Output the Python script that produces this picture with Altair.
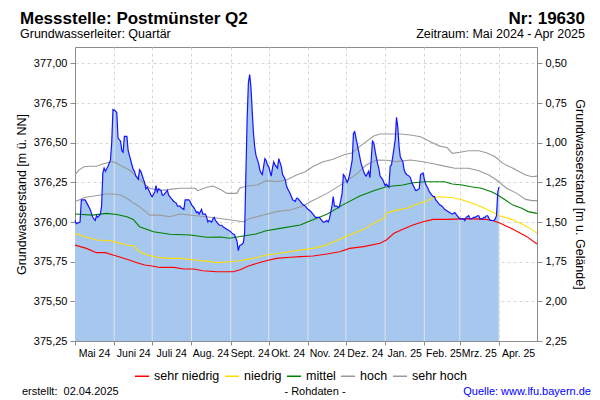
import altair as alt
import numpy as np
import pandas as pd

# ---------------- Texte ----------------
TITEL = "Messstelle: Postmünster Q2"
NUMMER = "Nr: 19630"
LEITER = "Grundwasserleiter: Quartär"
ZEITRAUM = "Zeitraum: Mai 2024 - Apr 2025"
ERSTELLT = "erstellt:\u00a0 02.04.2025"
ROHDATEN = "- Rohdaten -"
QUELLE = "Quelle: www.lfu.bayern.de"
Y_TITEL_LINKS = "Grundwasserstand [m ü. NN]"
Y_TITEL_RECHTS = "Grundwasserstand [m u. Gelände]"

# ---------------- Achsen ----------------
START = "2024-05-01"
ENDE = "2025-05-01"
GELAENDE = 377.50
Y_MIN = 375.25
Y_MAX = 377.104
Y_TICKS = [375.25, 375.50, 375.75, 376.00, 376.25, 376.50, 376.75, 377.00]
MONATS_ANFAENGE = ["2024-05-01", "2024-06-01", "2024-07-01", "2024-08-01", "2024-09-01",
                   "2024-10-01", "2024-11-01", "2024-12-01", "2025-01-01", "2025-02-01",
                   "2025-03-01", "2025-04-01"]
MONATS_LABELS = ["Mai 24", "Juni 24", "Juli 24", "Aug. 24", "Sept. 24", "Okt. 24",
                 "Nov. 24", "Dez. 24", "Jan. 25", "Feb. 25", "Mrz. 25", "Apr. 25"]

# ---------------- Messwerte (Tage seit START, m ü. NN) ----------------
MESS_TAG = [0, 1, 4, 5, 8, 10, 12, 14, 16, 17, 18, 20, 21, 22, 23, 24, 26, 27, 28, 29,
            30, 32, 33, 34, 36, 37, 38, 39, 41, 42, 43, 44, 46, 47, 48, 50, 51, 52, 54, 55,
            56, 57, 59, 60, 61, 63, 64, 65, 66, 68, 69, 70, 72, 73, 74, 76, 77, 78, 80, 81,
            83, 84, 86, 87, 88, 90, 91, 92, 94, 96, 97, 98, 100, 101, 103, 104, 105, 106, 108, 109,
            110, 111, 113, 114, 116, 117, 119, 121, 123, 124, 126, 128, 129, 130, 132, 133, 134, 135, 136, 137,
            138, 139, 140, 141, 142, 143, 145, 146, 147, 148, 150, 151, 152, 153, 155, 156, 157, 158, 160, 161,
            163, 164, 166, 167, 168, 170, 171, 172, 174, 175, 176, 178, 179, 180, 182, 183, 184, 186, 187, 188,
            190, 191, 193, 195, 196, 197, 199, 200, 201, 203, 204, 205, 207, 208, 209, 211, 212, 213, 215, 216,
            217, 219, 220, 221, 222, 224, 225, 226, 228, 229, 230, 232, 233, 234, 235, 236, 238, 239, 240, 241,
            243, 244, 245, 246, 248, 249, 250, 251, 253, 254, 255, 256, 257, 259, 260, 261, 262, 264, 265, 266,
            268, 269, 270, 272, 273, 275, 276, 277, 279, 280, 281, 283, 284, 285, 286, 288, 290, 292, 294, 296,
            298, 300, 301, 303, 304, 306, 307, 308, 309, 311, 312, 313, 315, 316, 318, 319, 320, 322, 323, 324,
            325, 326, 328, 330, 331, 332, 333, 334, 335]
MESS_WERT = [376.01, 375.99, 376.00, 376.14, 376.14, 376.11, 376.08, 376.03, 376.01, 376.04,
             376.03, 376.05, 376.10, 376.31, 376.34, 376.32, 376.35, 376.37, 376.39, 376.50,
             376.71, 376.70, 376.69, 376.53, 376.51, 376.45, 376.44, 376.54, 376.54, 376.45,
             376.42, 376.39, 376.33, 376.32, 376.29, 376.27, 376.33, 376.32, 376.27, 376.25,
             376.21, 376.22, 376.19, 376.17, 376.16, 376.19, 376.23, 376.19, 376.21, 376.20,
             376.17, 376.17, 376.19, 376.20, 376.17, 376.15, 376.14, 376.13, 376.12, 376.10,
             376.10, 376.09, 376.08, 376.14, 376.14, 376.14, 376.13, 376.11, 376.09, 376.06,
             376.065, 376.05, 376.08, 376.05, 376.05, 376.03, 376.00, 376.01, 376.00, 376.02,
             376.03, 376.01, 375.99, 375.98, 375.98, 375.97, 375.96, 375.95, 375.94, 375.93,
             375.92, 375.88, 375.82, 375.85, 375.86, 375.87, 375.93, 376.30, 376.65, 376.88,
             376.93, 376.85, 376.70, 376.56, 376.47, 376.42, 376.37, 376.33, 376.31, 376.30,
             376.40, 376.39, 376.36, 376.35, 376.29, 376.34, 376.38, 376.36, 376.34, 376.40,
             376.35, 376.30, 376.27, 376.23, 376.21, 376.18, 376.16, 376.14, 376.13, 376.15,
             376.15, 376.13, 376.12, 376.11, 376.10, 376.09, 376.08, 376.07, 376.06, 376.05,
             376.03, 376.03, 376.03, 376.01, 376.00, 376.00, 376.01, 376.00, 376.02, 376.10,
             376.16, 376.10, 376.10, 376.09, 376.10, 376.18, 376.30, 376.29, 376.25, 376.27,
             376.30, 376.39, 376.56, 376.57, 376.53, 376.45, 376.41, 376.37, 376.32, 376.30,
             376.29, 376.32, 376.28, 376.39, 376.51, 376.50, 376.41, 376.37, 376.34, 376.29,
             376.27, 376.25, 376.23, 376.24, 376.22, 376.35, 376.36, 376.41, 376.52, 376.66,
             376.60, 376.48, 376.41, 376.38, 376.33, 376.31, 376.30, 376.29, 376.28, 376.25,
             376.22, 376.20, 376.20, 376.21, 376.30, 376.31, 376.27, 376.24, 376.21, 376.19,
             376.18, 376.16, 376.16, 376.14, 376.13, 376.11, 376.10, 376.08, 376.07, 376.06,
             376.05, 376.06, 376.05, 376.03, 376.02, 376.02, 376.02, 376.01, 376.03, 376.04,
             376.02, 376.02, 376.03, 376.03, 376.04, 376.04, 376.02, 376.02, 376.03, 376.03,
             376.04, 376.04, 376.01, 376.01, 376.01, 376.02, 376.04, 376.19, 376.22]

# ---------------- Kennwerte (Tage seit START, m ü. NN) ----------------
SN_TAG = [0, 9, 17, 24, 30, 36, 41, 49, 55, 61, 67, 78, 86, 94, 101, 112, 125, 130, 137, 144,
          151, 159, 170, 178, 188, 199, 209, 217, 228, 241, 246, 252, 259, 267, 275, 283, 294, 310, 325, 330,
          336, 346, 357, 365]
SN_WERT = [375.855, 375.834, 375.807, 375.807, 375.792, 375.778, 375.765, 375.744, 375.729, 375.723,
           375.714, 375.714, 375.704, 375.704, 375.693, 375.687, 375.687, 375.698, 375.723, 375.740,
           375.756, 375.771, 375.778, 375.782, 375.786, 375.799, 375.813, 375.834, 375.845, 375.866,
           375.887, 375.929, 375.954, 375.981, 376.002, 376.017, 376.017, 376.022, 376.017, 376.010,
           375.992, 375.955, 375.908, 375.862]

N_TAG = [0, 9, 17, 28, 33, 41, 46, 51, 57, 65, 72, 83, 94, 104, 112, 123, 130, 141, 151, 162,
         178, 188, 199, 209, 217, 228, 238, 244, 246, 252, 262, 273, 277, 282, 287, 298, 306, 313, 321, 329,
         336, 345, 353, 361, 365]
N_WERT = [375.929, 375.904, 375.887, 375.882, 375.872, 375.855, 375.850, 375.813, 375.792, 375.778,
          375.771, 375.771, 375.761, 375.754, 375.744, 375.750, 375.756, 375.771, 375.792, 375.803,
          375.824, 375.834, 375.855, 375.891, 375.918, 375.954, 376.002, 376.024, 376.055, 376.072,
          376.087, 376.122, 376.128, 376.150, 376.160, 376.155, 376.139, 376.122, 376.097, 376.066,
          376.038, 376.017, 375.988, 375.954, 375.929]

M_TAG = [0, 14, 20, 25, 33, 41, 46, 51, 62, 75, 91, 104, 115, 122, 133, 143, 151, 162, 178, 186,
         199, 212, 225, 236, 246, 259, 267, 277, 292, 298, 306, 313, 321, 329, 334, 340, 346, 353, 358, 365]
M_WERT = [376.051, 376.044, 376.050, 376.055, 376.048, 376.034, 376.017, 375.971, 375.939, 375.923,
          375.918, 375.904, 375.906, 375.898, 375.912, 375.925, 375.945, 375.960, 375.981, 376.009,
          376.050, 376.110, 376.165, 376.198, 376.223, 376.234, 376.248, 376.254, 376.254, 376.240,
          376.234, 376.223, 376.213, 376.191, 376.171, 376.139, 376.107, 376.087, 376.066, 376.055]

H_TAG = [0, 8, 15, 20, 24, 30, 36, 41, 46, 51, 59, 67, 75, 83, 90, 107, 122, 133, 138, 149,
         159, 170, 180, 186, 199, 212, 223, 230, 238, 246, 254, 265, 275, 284, 292, 300, 311, 319, 327, 333,
         341, 349, 356, 361, 365]
H_WERT = [376.128, 376.156, 376.164, 376.171, 376.177, 376.177, 376.171, 376.150, 376.122, 376.097,
          376.044, 376.044, 376.034, 376.051, 376.045, 376.030, 376.015, 376.002, 376.023, 376.044,
          376.066, 376.076, 376.101, 376.128, 376.181, 376.244, 376.307, 376.360, 376.391, 376.390,
          376.381, 376.391, 376.380, 376.366, 376.353, 376.339, 376.339, 376.324, 376.297, 376.265,
          376.213, 376.181, 376.143, 376.135, 376.135]

SH_TAG = [0, 3, 7, 12, 17, 22, 29, 32, 38, 43, 49, 54, 59, 67, 75, 83, 95, 97, 104, 109,
          115, 120, 128, 130, 136, 144, 151, 159, 167, 175, 182, 188, 196, 204, 212, 219, 224, 230, 236, 241,
          257, 265, 273, 280, 288, 294, 298, 304, 311, 319, 325, 332, 338, 346, 356, 361, 365]
SH_WERT = [376.297, 376.328, 376.349, 376.352, 376.352, 376.366, 376.381, 376.375, 376.349, 376.328,
           376.286, 376.248, 376.213, 376.198, 376.206, 376.213, 376.213, 376.198, 376.220, 376.227,
           376.205, 376.181, 376.181, 376.213, 376.227, 376.234, 376.261, 376.255, 376.265, 376.297,
           376.318, 376.350, 376.381, 376.396, 376.423, 376.437, 376.471, 376.507, 376.543, 376.555,
           376.555, 376.549, 376.538, 376.510, 376.479, 376.470, 376.433, 376.440, 376.450, 376.450,
           376.437, 376.412, 376.370, 376.339, 376.297, 376.286, 376.290]

KLASSEN = ["sehr niedrig", "niedrig", "mittel", "hoch", "sehr hoch"]
KLASSEN_FARBEN = ["#ff0000", "#ffdf00", "#008000", "#9a9a9a", "#9a9a9a"]

FONT = "Liberation Sans"
FUELLUNG = "#a6c8ee"
BLAU = "#1414ff"
RAHMEN = "#8c8c8c"

# ---------------- Tabellen ----------------
start = pd.Timestamp(START)
mess = pd.DataFrame({"datum": start + pd.to_timedelta(MESS_TAG, unit="D"), "wert": MESS_WERT})

teile = []
for name, tage, werte in zip(KLASSEN, [SN_TAG, N_TAG, M_TAG, H_TAG, SH_TAG],
                             [SN_WERT, N_WERT, M_WERT, H_WERT, SH_WERT]):
    teile.append(pd.DataFrame({"datum": start + pd.to_timedelta(tage, unit="D"),
                               "wert": werte, "klasse": name}))
kenn = pd.concat(teile, ignore_index=True)

# Helle Monatslinien innerhalb der Fläche (bis zur Ganglinie)
anf = pd.to_datetime(MONATS_ANFAENGE[1:])
anf_tage = [(d - start).days for d in anf]
monatslinien = pd.DataFrame({"datum": anf,
                             "wert": np.interp(anf_tage, MESS_TAG, MESS_WERT)})
monatslinien = monatslinien[[t <= MESS_TAG[-1] for t in anf_tage]]

# ---------------- Skalen / Achsen ----------------
def dt(s):
    t = pd.Timestamp(s)
    return alt.DateTime(year=t.year, month=t.month, date=t.day)

x_scale = alt.Scale(domain=[dt(START), dt(ENDE)])
y_scale = alt.Scale(domain=[Y_MIN, Y_MAX], nice=False, zero=False)

lbl_by_month = [""] * 12
for d, l in zip(MONATS_ANFAENGE, MONATS_LABELS):
    lbl_by_month[pd.Timestamp(d).month - 1] = l
label_expr = "[" + ",".join("'" + l + "'" for l in lbl_by_month) + "][month(datum.value)]"

x_axis = alt.Axis(values=[dt(d) for d in MONATS_ANFAENGE], labelExpr=label_expr,
                  labelOffset=19, tickSize=4, labelPadding=3, grid=True, labelFontSize=10.5,
                  gridDash=[3, 3], gridColor="#d6d6d6", labelFlush=False,
                  labelOverlap=False, title=None)
y_axis = alt.Axis(values=Y_TICKS, labelExpr="replace(format(datum.value, '.2f'), '.', ',')",
                  tickSize=5, labelPadding=3, grid=True, gridDash=[3, 3], gridColor="#d6d6d6",
                  title=Y_TITEL_LINKS, titleX=-54, titleY=147, titleAngle=270,
                  titleAlign="center", titleBaseline="middle", titleFontSize=12.5)
y_axis_r = alt.Axis(orient="right", values=Y_TICKS,
                    labelExpr=f"replace(format({GELAENDE} - datum.value, '.2f'), '.', ',')",
                    tickSize=5, labelPadding=3, grid=False,
                    title=Y_TITEL_RECHTS, titleX=42, titleY=147, titleAngle=90,
                    titleAlign="center", titleBaseline="middle", titleFontSize=12.5)

X = alt.X("datum:T", scale=x_scale, axis=x_axis)
Y = alt.Y("wert:Q", scale=y_scale, axis=y_axis)

flaeche = alt.Chart(mess).mark_area(color=FUELLUNG, opacity=1, clip=True).encode(
    x=X, y=Y, y2=alt.datum(Y_MIN))
linien_monat = alt.Chart(monatslinien).mark_rule(color="#e2e2e2", strokeWidth=1).encode(
    x=X, y=Y, y2=alt.datum(Y_MIN))
kennlinien = alt.Chart(kenn).mark_line(strokeWidth=1.1, clip=True).encode(
    x=X, y=Y,
    color=alt.Color("klasse:N", sort=KLASSEN,
                    scale=alt.Scale(domain=KLASSEN, range=KLASSEN_FARBEN),
                    legend=alt.Legend(orient="none", legendX=59, legendY=321,
                                      direction="horizontal", symbolType="stroke",
                                      symbolStrokeWidth=1.5, symbolSize=200,
                                      labelFontSize=12.5, labelFont=FONT, labelColor="#000",
                                      labelOffset=4, columnPadding=1, title=None)),
    order=alt.Order("datum:T"))
ganglinie = alt.Chart(mess).mark_line(color=BLAU, strokeWidth=1.2).encode(x=X, y=Y)


def text(t, x, y, size=11, weight="normal", align="left", color="#000", baseline="middle"):
    return alt.Chart(pd.DataFrame({"t": [t]})).mark_text(
        font=FONT, fontSize=size, fontWeight=weight, align=align, baseline=baseline,
        color=color).encode(text="t:N", x=alt.value(x), y=alt.value(y))


texte = [
    text(TITEL, -55, -23.4, 17, "bold", baseline="alphabetic"),
    text(LEITER, -55, -13.5, 12.5),
    text(NUMMER, 510, -23.4, 17, "bold", "right", baseline="alphabetic"),
    text(ZEITRAUM, 510, -13.5, 12.5, align="right"),
    text(ERSTELLT, -53, 345, 11),
    text(ROHDATEN, 240, 345, 11, align="center"),
    text(QUELLE, 516, 345, 11, align="right", color="#0000ff"),
]

innen = alt.layer(flaeche, linien_monat, kennlinien, ganglinie, *texte)
rechts = alt.Chart(pd.DataFrame({"wert": Y_TICKS})).mark_point(opacity=0).encode(
    y=alt.Y("wert:Q", scale=y_scale, axis=y_axis_r))

chart = alt.layer(innen, rechts).resolve_scale(y="independent").properties(
    width=462, height=294,
    autosize=alt.AutoSizeParams(type="none"),
    padding={"left": 67, "top": 39, "right": 55, "bottom": 58},
).configure_view(stroke=RAHMEN, strokeWidth=1).configure_axis(
    labelFont=FONT, titleFont=FONT, labelFontSize=11, labelColor="#000",
    titleColor="#000", titleFontWeight="normal", tickColor=RAHMEN, domainColor=RAHMEN)

chart.save("out.html", embed_options={"renderer": "svg", "actions": False})
